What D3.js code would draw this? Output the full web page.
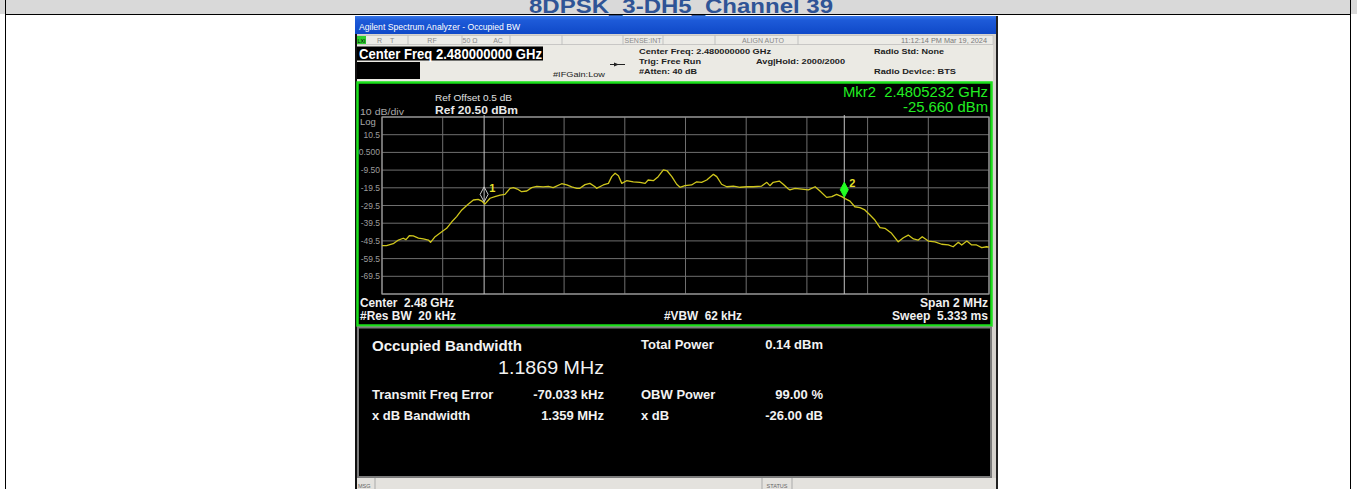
<!DOCTYPE html>
<html>
<head>
<meta charset="utf-8">
<script src="https://cdn.jsdelivr.net/npm/d3@7"></script>
<style>
  body { margin: 0; background: #fff; }
  svg { display: block; font-family: Arial, 'Liberation Sans', sans-serif; }
</style>
</head>
<body>
<svg id="chart" width="1357" height="489"></svg>
<script>
(function () {
    'use strict';

    // --- Data -----------------------------------------------------------

    var pageTitle = '8DPSK_3-DH5_Channel 39';

    var centerGHz = 2.48,
        spanMHz = 2,
        refLevel = 20.5,
        dbPerDiv = 10,
        divisions = 10;

    var yTickLabels = ['10.5', '0.500', '-9.50', '-19.5', '-29.5',
                       '-39.5', '-49.5', '-59.5', '-69.5'];

    // trace: [offset from center (MHz), level (dBm)]
    var trace = [
        [-1.000, -52.2], [-0.985, -52.2], [-0.963, -51.1], [-0.946, -49.0],
        [-0.930, -48.0], [-0.921, -48.8], [-0.910, -46.6], [-0.897, -46.7],
        [-0.880, -47.9], [-0.864, -48.4], [-0.847, -49.0], [-0.840, -50.3],
        [-0.825, -47.1], [-0.803, -44.3], [-0.787, -42.4], [-0.770, -38.7],
        [-0.754, -35.8], [-0.737, -32.0], [-0.719, -29.2], [-0.699, -26.4],
        [-0.683, -26.0], [-0.671, -27.0], [-0.661, -28.7], [-0.644, -25.4],
        [-0.628, -24.5], [-0.611, -23.6], [-0.595, -23.2], [-0.578, -19.8],
        [-0.567, -19.4], [-0.554, -20.2], [-0.540, -21.7], [-0.523, -21.3],
        [-0.507, -19.4], [-0.490, -18.7], [-0.469, -19.0], [-0.452, -18.7],
        [-0.436, -19.4], [-0.408, -17.2], [-0.391, -17.9], [-0.375, -19.0],
        [-0.358, -19.8], [-0.348, -19.8], [-0.331, -17.7], [-0.315, -17.0],
        [-0.298, -18.9], [-0.293, -19.8], [-0.271, -17.9], [-0.254, -17.0],
        [-0.243, -13.2], [-0.232, -11.3], [-0.221, -12.7], [-0.210, -17.0],
        [-0.194, -15.5], [-0.172, -16.1], [-0.150, -16.4], [-0.133, -17.0],
        [-0.123, -15.1], [-0.106, -15.5], [-0.090, -13.2], [-0.073, -9.4],
        [-0.060, -10.0], [-0.045, -13.2], [-0.029, -17.5], [-0.018, -19.2],
        [-0.002, -18.3], [0.020, -17.9], [0.037, -16.1], [0.053, -16.4],
        [0.070, -15.1], [0.092, -11.9], [0.103, -13.2], [0.119, -17.5],
        [0.136, -18.9], [0.158, -18.5], [0.180, -19.2], [0.202, -18.9],
        [0.223, -18.9], [0.251, -18.5], [0.268, -16.4], [0.278, -18.3],
        [0.289, -16.4], [0.309, -15.7], [0.322, -17.5], [0.339, -20.2],
        [0.344, -20.7], [0.361, -19.8], [0.383, -20.2], [0.405, -20.7],
        [0.427, -18.9], [0.443, -21.3], [0.465, -24.9], [0.482, -24.5],
        [0.498, -23.2], [0.515, -24.5], [0.526, -25.6], [0.542, -27.0],
        [0.558, -30.2], [0.575, -30.7], [0.591, -32.0], [0.608, -34.9],
        [0.624, -37.7], [0.641, -42.0], [0.657, -42.4], [0.679, -45.2],
        [0.701, -50.0], [0.718, -47.7], [0.734, -46.2], [0.751, -48.4],
        [0.767, -49.0], [0.780, -47.1], [0.800, -49.6], [0.822, -50.0],
        [0.844, -51.4], [0.866, -51.8], [0.882, -52.8], [0.899, -50.3],
        [0.910, -51.8], [0.927, -49.6], [0.943, -51.8], [0.959, -51.8],
        [0.976, -53.3], [0.992, -52.8], [1.000, -53.0]
    ];

    // OBW markers: offset (MHz), level (dBm)
    var markerIds = ['1', '2'];
    var markerOffsets = [-0.6635, 0.5232];
    var markerLevels = [-28.3, -25.66];

    var statusCells = ['R', 'T', 'RF', '50 \u03A9', 'AC', 'SENSE:INT', 'ALIGN AUTO'];
    var timeStamp = '11:12:14 PM Mar 19, 2024';

    var resultsLeft = [
        ['Transmit Freq Error', '-70.033 kHz'],
        ['x dB Bandwidth', '1.359 MHz']
    ];
    var resultsRight = [
        ['Total Power', '0.14 dBm'],
        ['OBW Power', '99.00 %'],
        ['x dB', '-26.00 dB']
    ];
    var occupiedBw = '1.1869 MHz';

    // --- Layout --------------------------------------------------------

    var grid = { left: 382, right: 989, top: 117, bottom: 294 };
    var nb = '\u00a0';

    var svg = d3.select('#chart');

    var x = d3.scaleLinear()
        .domain([-spanMHz / 2, spanMHz / 2])
        .range([grid.left, grid.right]);

    var y = d3.scaleLinear()
        .domain([refLevel - dbPerDiv * divisions, refLevel])
        .range([grid.bottom, grid.top]);

    function txt(g, s, o) {
        var t = g.append('text').text(s)
            .attr('x', o.x).attr('y', o.y)
            .attr('font-size', o.size || 10)
            .attr('fill', o.fill || '#000');
        if (o.weight) { t.attr('font-weight', o.weight); }
        if (o.anchor) { t.attr('text-anchor', o.anchor); }
        if (o.len) {
            t.attr('textLength', o.len).attr('lengthAdjust', 'spacingAndGlyphs');
        }
        return t;
    }

    // --- Page frame ----------------------------------------------------

    function drawPage() {
        var g = svg.append('g').attr('class', 'page');
        g.append('rect').attr('x', 0).attr('y', 0)
            .attr('width', 1357).attr('height', 14).attr('fill', '#d9d9d9');
        // title sits partly above the crop, as in the source page
        txt(g, pageTitle, { x: 681, y: 12.5, size: 20, weight: 'bold',
            fill: '#2f5496', anchor: 'middle', len: 304 });
        g.append('line').attr('x1', 5).attr('x2', 1350)
            .attr('y1', 14.5).attr('y2', 14.5).attr('stroke', '#000');
        [5.5, 1350.5].forEach(function (xx) {
            g.append('line').attr('x1', xx).attr('x2', xx)
                .attr('y1', 0).attr('y2', 489).attr('stroke', '#000');
        });
    }

    // --- Analyzer window chrome ----------------------------------------

    function drawChrome() {
        var g = svg.append('g').attr('class', 'chrome'),
            defs = svg.append('defs'),
            grad = defs.append('linearGradient').attr('id', 'titleGrad')
                .attr('x1', 0).attr('x2', 0).attr('y1', 0).attr('y2', 1);

        grad.append('stop').attr('offset', '0%').attr('stop-color', '#3a78e8');
        grad.append('stop').attr('offset', '25%').attr('stop-color', '#1d5ad8');
        grad.append('stop').attr('offset', '100%').attr('stop-color', '#0f49c8');

        // whole window backdrop
        g.append('rect').attr('x', 355).attr('y', 16)
            .attr('width', 643).attr('height', 473).attr('fill', '#d6d3ce');
        g.append('rect').attr('x', 355).attr('y', 16)
            .attr('width', 643).attr('height', 18).attr('fill', 'url(#titleGrad)');
        txt(g, 'Agilent Spectrum Analyzer - Occupied BW',
            { x: 359, y: 29.5, size: 9.5, fill: '#fff', len: 161 });

        // status strip
        g.append('rect').attr('x', 357).attr('y', 35.5)
            .attr('width', 636).attr('height', 9).attr('fill', '#ecebe6')
            .attr('stroke', '#b8b8b8').attr('stroke-width', 0.6);
        g.append('rect').attr('x', 357).attr('y', 36)
            .attr('width', 9).attr('height', 8).attr('fill', '#2fd02f');
        txt(g, 'LXI', { x: 357.5, y: 43, size: 5.5, fill: '#000', len: 8 });
        [408, 462, 510, 562, 623, 663, 715, 798].forEach(function (xx) {
            g.append('line').attr('x1', xx).attr('x2', xx)
                .attr('y1', 35.5).attr('y2', 44.5)
                .attr('stroke', '#b0b0b0').attr('stroke-width', 0.7);
        });
        var cellX = [377, 390, 432, 470, 498, 643, 763];
        statusCells.forEach(function (s, i) {
            txt(g, s, { x: cellX[i], y: 42.5, size: 7, fill: '#8a8a8a',
                anchor: i < 2 ? 'start' : 'middle' });
        });
        txt(g, timeStamp, { x: 987, y: 42.5, size: 7, fill: '#7a7a7a',
            anchor: 'end', len: 86 });

        // settings header
        g.append('rect').attr('x', 357).attr('y', 45)
            .attr('width', 636).attr('height', 37).attr('fill', '#ebeae4');
        g.append('rect').attr('x', 357).attr('y', 46.5)
            .attr('width', 186).attr('height', 14).attr('fill', '#000');
        g.append('rect').attr('x', 357).attr('y', 62)
            .attr('width', 63).attr('height', 17).attr('fill', '#000');
        txt(g, 'Center Freq 2.480000000 GHz',
            { x: 359, y: 58.5, size: 14, weight: 'bold', fill: '#fff', len: 183 });
        txt(g, '#IFGain:Low', { x: 553, y: 77, size: 7.5, fill: '#222', len: 52 });

        // trigger arrow glyph
        g.append('line').attr('x1', 610).attr('x2', 625)
            .attr('y1', 64.5).attr('y2', 64.5).attr('stroke', '#222');
        g.append('path').attr('d', 'M614,62.5 L619,64.5 L614,66.5 Z').attr('fill', '#222');

        txt(g, 'Center Freq: 2.480000000 GHz',
            { x: 639, y: 53.5, size: 8, weight: 'bold', fill: '#222', len: 132 });
        txt(g, 'Trig: Free Run',
            { x: 639, y: 63.5, size: 8, weight: 'bold', fill: '#222', len: 62 });
        txt(g, '#Atten: 40 dB',
            { x: 639, y: 73.5, size: 8, weight: 'bold', fill: '#222', len: 58 });
        txt(g, 'Avg|Hold: 2000/2000',
            { x: 756, y: 63.5, size: 8, weight: 'bold', fill: '#222', len: 89 });
        txt(g, 'Radio Std: None',
            { x: 874, y: 53.5, size: 8, weight: 'bold', fill: '#222', len: 70 });
        txt(g, 'Radio Device: BTS',
            { x: 874, y: 73.5, size: 8, weight: 'bold', fill: '#222', len: 82 });

        // right/left window edges
        g.append('rect').attr('x', 355).attr('y', 34)
            .attr('width', 2).attr('height', 455).attr('fill', '#111');
        g.append('rect').attr('x', 996).attr('y', 16)
            .attr('width', 2).attr('height', 473).attr('fill', '#222');

        // message bar
        g.append('rect').attr('x', 357).attr('y', 478)
            .attr('width', 639).attr('height', 11).attr('fill', '#e4e2de');
        txt(g, 'MSG', { x: 358, y: 488, size: 5.5, fill: '#666' });
        [375, 762, 792].forEach(function (xx) {
            g.append('line').attr('x1', xx).attr('x2', xx)
                .attr('y1', 478).attr('y2', 489).attr('stroke', '#aaa');
        });
        txt(g, 'STATUS', { x: 777, y: 488, size: 5.5, fill: '#666', anchor: 'middle' });
    }

    // --- Spectrum panel ------------------------------------------------

    function drawSpectrum() {
        var g = svg.append('g').attr('class', 'spectrum'),
            xTicks = d3.range(divisions + 1).map(function (i) {
                return -spanMHz / 2 + i * spanMHz / divisions;
            }),
            yTicks = d3.range(divisions + 1).map(function (i) {
                return refLevel - i * dbPerDiv;
            });

        g.append('rect').attr('x', 357.5).attr('y', 82.5)
            .attr('width', 634).attr('height', 243).attr('fill', '#000')
            .attr('stroke', '#1be01b').attr('stroke-width', 2.5);

        // graticule
        g.selectAll('line.vg').data(xTicks).enter().append('line')
            .attr('class', 'vg')
            .attr('x1', function (d) { return x(d); })
            .attr('x2', function (d) { return x(d); })
            .attr('y1', grid.top).attr('y2', grid.bottom)
            .attr('stroke', '#6f6f6f').attr('stroke-width', 1);
        g.selectAll('line.hg').data(yTicks).enter().append('line')
            .attr('class', 'hg')
            .attr('x1', grid.left).attr('x2', grid.right)
            .attr('y1', function (d) { return y(d); })
            .attr('y2', function (d) { return y(d); })
            .attr('stroke', '#6f6f6f').attr('stroke-width', 1);
        g.append('rect')
            .attr('x', grid.left).attr('y', grid.top)
            .attr('width', grid.right - grid.left)
            .attr('height', grid.bottom - grid.top)
            .attr('fill', 'none').attr('stroke', '#9a9a9a').attr('stroke-width', 1.2);

        // y labels
        g.selectAll('text.yl').data(yTickLabels).enter().append('text')
            .attr('class', 'yl')
            .attr('x', grid.left - 2)
            .attr('y', function (d, i) { return y(yTicks[i + 1]) + 3; })
            .attr('text-anchor', 'end')
            .attr('font-size', 8.5)
            .attr('fill', '#9c9c9c')
            .text(function (d) { return d; });

        txt(g, '10 dB/div', { x: 360, y: 114.5, size: 9.5, fill: '#a8a8a8', len: 44 });
        txt(g, 'Log', { x: 360, y: 124.5, size: 9.5, fill: '#a8a8a8' });
        txt(g, 'Ref Offset 0.5 dB', { x: 435, y: 100.5, size: 9.5, fill: '#e0e0e0', len: 77 });
        txt(g, 'Ref 20.50 dBm',
            { x: 435, y: 114, size: 11.5, weight: 'bold', fill: '#e8e8e8', len: 83 });

        // marker readout
        txt(g, 'Mkr2' + nb + nb + '2.4805232 GHz',
            { x: 988, y: 97, size: 15, fill: '#22ee22', anchor: 'end', len: 145 });
        txt(g, '-25.660 dBm',
            { x: 988, y: 111.5, size: 15, fill: '#22ee22', anchor: 'end', len: 85 });

        // marker lines
        g.selectAll('line.mk').data(markerOffsets).enter().append('line')
            .attr('class', 'mk')
            .attr('x1', function (d) { return x(d); })
            .attr('x2', function (d) { return x(d); })
            .attr('y1', grid.top - 2).attr('y2', grid.bottom)
            .attr('stroke', '#c4c4c4').attr('stroke-width', 1);

        // trace
        var line = d3.line()
            .x(function (d) { return x(d[0]); })
            .y(function (d) { return y(d[1]); });
        g.append('path').datum(trace)
            .attr('d', line)
            .attr('fill', 'none')
            .attr('stroke', '#cfc61c')
            .attr('stroke-width', 1.3)
            .attr('stroke-linejoin', 'round');

        // marker diamonds
        markerIds.forEach(function (id, i) {
            var mx = x(markerOffsets[i]),
                my = y(markerLevels[i]) - 1.5,
                active = i === markerIds.length - 1;
            g.append('path')
                .attr('d', 'M' + mx + ',' + my + ' L' + (mx + 4) + ',' + (my - 7.5) +
                      ' L' + mx + ',' + (my - 15) + ' L' + (mx - 4) + ',' + (my - 7.5) + ' Z')
                .attr('fill', active ? '#22ff22' : 'none')
                .attr('stroke', active ? '#22ff22' : '#c8c8c8')
                .attr('stroke-width', 1);
            txt(g, id, { x: mx + 5, y: my - 10, size: 11, weight: 'bold', fill: '#e6e02a' });
        });

        // bottom annotations
        txt(g, 'Center' + nb + nb + '2.48 GHz',
            { x: 360, y: 306.5, size: 12, weight: 'bold', fill: '#f0f0f0', len: 94 });
        txt(g, '#Res BW' + nb + nb + '20 kHz',
            { x: 360, y: 319.5, size: 12, weight: 'bold', fill: '#f0f0f0', len: 96 });
        txt(g, '#VBW' + nb + nb + '62 kHz',
            { x: 664, y: 319.5, size: 12, weight: 'bold', fill: '#f0f0f0', len: 78 });
        txt(g, 'Span 2 MHz',
            { x: 988, y: 306.5, size: 12, weight: 'bold', fill: '#f0f0f0', anchor: 'end', len: 68 });
        txt(g, 'Sweep' + nb + nb + '5.333 ms',
            { x: 988, y: 319.5, size: 12, weight: 'bold', fill: '#f0f0f0', anchor: 'end', len: 96 });
    }

    // --- Result table --------------------------------------------------

    function drawResults() {
        var g = svg.append('g').attr('class', 'results'),
            rowY = [398.5, 419.5];

        g.append('rect').attr('x', 358).attr('y', 327.5)
            .attr('width', 633).attr('height', 149.5).attr('fill', '#000')
            .attr('stroke', '#7c7c7c').attr('stroke-width', 2);

        txt(g, 'Occupied Bandwidth',
            { x: 372, y: 351, size: 15, weight: 'bold', fill: '#f2f2f2', len: 150 });
        txt(g, occupiedBw,
            { x: 604, y: 373.5, size: 19, fill: '#f2f2f2', anchor: 'end', len: 106 });

        resultsLeft.forEach(function (r, i) {
            txt(g, r[0], { x: 372, y: rowY[i], size: 13, weight: 'bold', fill: '#f2f2f2' });
            txt(g, r[1], { x: 604, y: rowY[i], size: 13, weight: 'bold', fill: '#f2f2f2',
                anchor: 'end' });
        });

        var rightY = [348.5, 398.5, 419.5];
        resultsRight.forEach(function (r, i) {
            txt(g, r[0], { x: 641, y: rightY[i], size: 13, weight: 'bold', fill: '#f2f2f2' });
            txt(g, r[1], { x: 823, y: rightY[i], size: 13, weight: 'bold', fill: '#f2f2f2',
                anchor: 'end' });
        });
    }

    drawPage();
    drawChrome();
    drawSpectrum();
    drawResults();
}());
</script>
</body>
</html>
